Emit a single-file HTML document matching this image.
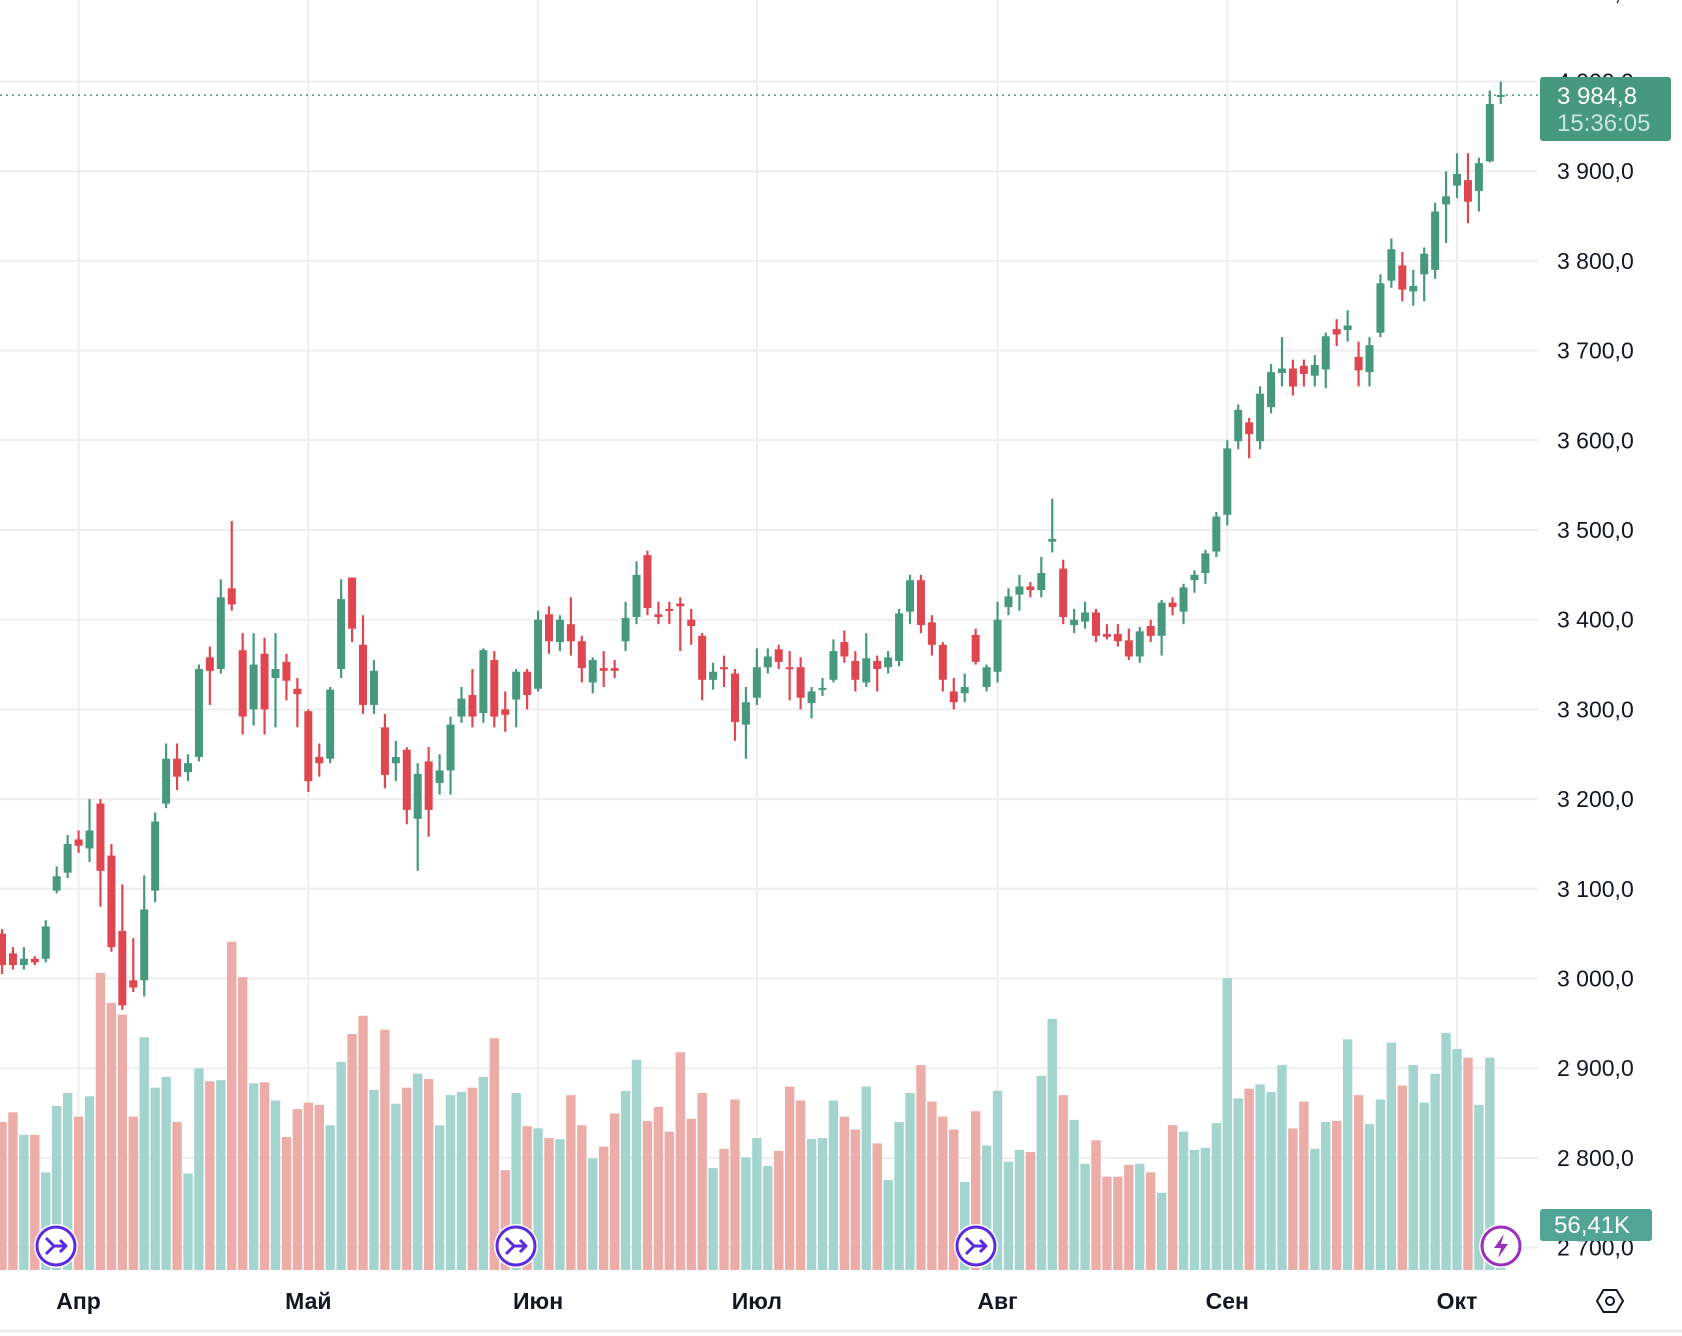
<!DOCTYPE html>
<html><head><meta charset="utf-8">
<style>
html,body{margin:0;padding:0;background:#fff;}
svg{display:block;font-family:"Liberation Sans",sans-serif;}
</style></head>
<body>
<svg id="chart" width="1682" height="1336" viewBox="0 0 1682 1336" xmlns="http://www.w3.org/2000/svg">
<g id="grid"></g>
<g id="vol"></g>
<g id="candles"></g>
<g id="yaxis"></g>
<g id="xaxis"></g>
</svg>
<script>
const opens=[3050,3028,3015,3022,3022,3098,3118,3155,3145,3195,3137,3053,2998,2998,3098,3195,3245,3230,3247,3358,3345,3435,3366,3300,3362,3335,3353,3323,3298,3247,3245,3345,3447,3372,3305,3280,3240,3255,3178,3242,3218,3232,3292,3316,3296,3355,3300,3311,3342,3323,3406,3375,3395,3376,3330,3346,3346,3376,3403,3472,3406,3412,3418,3400,3382,3333,3347,3340,3283,3313,3347,3367,3347,3347,3307,3322,3333,3375,3354,3330,3354,3347,3354,3409,3444,3397,3372,3320,3318,3383,3325,3342,3414,3428,3437,3433,3487,3457,3394,3398,3408,3384,3384,3377,3359,3393,3382,3419,3409,3444,3452,3476,3517,3599,3620,3599,3637,3675,3680,3683,3672,3679,3724,3723,3693,3676,3720,3778,3795,3766,3785,3790,3863,3884,3890,3878,3911,3984];
const closes=[3015,3015,3022,3018,3058,3114,3150,3148,3165,3120,3035,2970,2990,3077,3175,3245,3225,3240,3345,3343,3425,3417,3292,3350,3300,3345,3332,3317,3220,3240,3322,3423,3390,3305,3343,3227,3247,3188,3228,3188,3232,3283,3312,3292,3366,3292,3294,3342,3316,3400,3376,3400,3376,3346,3355,3343,3343,3402,3450,3413,3403,3410,3415,3393,3333,3342,3345,3286,3308,3347,3359,3353,3345,3313,3320,3324,3365,3359,3333,3357,3345,3358,3407,3444,3394,3372,3333,3308,3325,3353,3347,3400,3426,3437,3433,3452,3490,3403,3400,3408,3382,3381,3376,3359,3387,3382,3419,3414,3436,3450,3474,3515,3591,3634,3607,3652,3676,3680,3660,3674,3684,3716,3718,3728,3678,3706,3775,3813,3768,3772,3808,3855,3872,3897,3866,3909,3975,3985];
const highs=[3055,3035,3035,3025,3065,3125,3160,3165,3200,3200,3150,3105,3045,3115,3185,3262,3262,3250,3350,3370,3445,3510,3385,3385,3380,3385,3362,3335,3300,3262,3325,3445,3447,3405,3355,3295,3265,3258,3240,3258,3250,3292,3325,3345,3368,3365,3320,3345,3345,3410,3415,3405,3425,3382,3358,3365,3355,3420,3465,3477,3420,3420,3425,3412,3385,3352,3360,3345,3325,3368,3368,3372,3365,3358,3325,3335,3378,3388,3365,3385,3360,3365,3412,3450,3450,3405,3375,3335,3340,3390,3350,3420,3435,3450,3442,3470,3535,3467,3412,3420,3412,3395,3395,3390,3392,3400,3422,3425,3440,3455,3478,3520,3600,3640,3625,3660,3685,3715,3690,3690,3695,3720,3735,3745,3710,3715,3785,3825,3810,3790,3815,3865,3900,3920,3920,3915,3990,4000];
const lows=[3005,3010,3010,3015,3018,3095,3112,3140,3130,3080,3030,2965,2985,2980,3085,3190,3210,3220,3242,3305,3340,3410,3272,3282,3272,3280,3310,3280,3208,3225,3240,3335,3375,3295,3295,3212,3220,3172,3120,3158,3205,3205,3285,3280,3285,3280,3275,3280,3300,3320,3362,3365,3360,3330,3318,3325,3335,3365,3395,3405,3395,3395,3365,3372,3310,3322,3325,3265,3245,3305,3340,3345,3310,3300,3290,3315,3330,3352,3320,3325,3320,3340,3348,3395,3385,3360,3320,3300,3308,3350,3320,3330,3405,3410,3425,3425,3475,3395,3385,3390,3375,3378,3370,3355,3352,3375,3360,3405,3395,3430,3440,3470,3505,3590,3580,3590,3630,3660,3650,3660,3660,3658,3705,3710,3660,3660,3715,3770,3755,3750,3755,3780,3820,3870,3842,3855,3910,3975];
const volumes=[138,147,126,126,91,153,165,143,162,277,249,238,143,217,170,180,138,90,188,176,177,306,273,174,175,158,124,150,156,154,135,194,220,237,168,224,155,170,183,178,135,163,166,170,180,216,93,165,134,132,123,122,163,135,104,115,146,167,196,139,152,129,203,141,165,95,113,159,105,123,97,111,171,158,122,123,158,143,131,171,118,84,138,165,191,157,143,131,82,148,116,167,101,112,110,181,234,163,140,99,121,87,87,98,99,91,72,135,129,112,114,137,272,160,169,173,166,191,132,157,113,138,139,215,163,136,159,212,172,191,156,183,221,206,198,154,198,4];
const priceTicks=[4100,4000,3900,3800,3700,3600,3500,3400,3300,3200,3100,3000,2900,2800,2700];
const priceTickLabels=["4 100,0","4 000,0","3 900,0","3 800,0","3 700,0","3 600,0","3 500,0","3 400,0","3 300,0","3 200,0","3 100,0","3 000,0","2 900,0","2 800,0","2 700,0"];
const monthIdx=[7,28,49,69,91,112,133];
const monthLabels=["Апр","Май","Июн","Июл","Авг","Сен","Окт"];
const lastPrice=3984.8;

const NS="http://www.w3.org/2000/svg";
const PR=1538, VB=1270;
function X(i){return 2+i*10.94;}
function Y(p){return 81.5+(4000-p)*0.897;}
function VY(v){return VB-v*1.0727;}
function mk(tag,attrs,parent){const e=document.createElementNS(NS,tag);for(const k in attrs)e.setAttribute(k,attrs[k]);parent.appendChild(e);return e;}
const G=document.getElementById('grid'),V=document.getElementById('vol'),C=document.getElementById('candles'),YA=document.getElementById('yaxis'),XA=document.getElementById('xaxis');

priceTicks.forEach((p,k)=>{
  const l=mk('line',{x1:0,x2:PR,y1:Y(p),y2:Y(p),stroke:'#eeeeee','stroke-width':2},G);
  
  
  const t=mk('text',{x:1557,y:Y(p)+8,'font-size':23,fill:'#131722'},YA);
  t.textContent=priceTickLabels[k];
  
  
});
monthIdx.forEach((i,k)=>{
  const l=mk('line',{x1:X(i),x2:X(i),y1:0,y2:VB,stroke:'#eeeeee','stroke-width':2},G);
  
  
  const t=mk('text',{x:X(i),y:1309,'font-size':23,'font-weight':'bold','text-anchor':'middle',fill:'#131722'},XA);
  t.textContent=monthLabels[k];
  
  
});

volumes.forEach((v,i)=>{
  const up=closes[i]>=opens[i];
  const r=mk('rect',{x:X(i)-4.7,y:VY(v),width:9.4,height:VB-VY(v),fill:up?'#a3d4ce':'#ecaca8'},V);
  
  
});
opens.forEach((o,i)=>{
  const c=closes[i],up=c>=o,col=up?'#46997f':'#e0464f';
  const g=mk('g',{},C);
  
  
  mk('line',{x1:X(i),x2:X(i),y1:Y(highs[i]),y2:Y(lows[i]),stroke:col,'stroke-width':2.2},g);
  const top=Y(Math.max(o,c)),h=Math.max(2,Math.abs(Y(o)-Y(c)));
  mk('rect',{x:X(i)-4,y:top,width:8,height:h,fill:col},g);
});

const ly=Y(lastPrice);
const dl=mk('line',{x1:0,x2:PR,y1:ly,y2:ly,stroke:'#46997f','stroke-width':1.6,'stroke-dasharray':'2 4'},G);


const tag=mk('g',{},YA);


mk('rect',{x:1540,y:77,width:131,height:64,rx:3,fill:'#46997f'},tag);
let t1=mk('text',{x:1557,y:104,'font-size':24,fill:'#ffffff'},tag);t1.textContent='3 984,8';
let t2=mk('text',{x:1557,y:131,'font-size':24,fill:'#c8e6dd'},tag);t2.textContent='15:36:05';
const vt=mk('g',{},YA);


mk('rect',{x:1540,y:1209,width:112,height:32,rx:3,fill:'#52a596'},vt);
let t3=mk('text',{x:1554,y:1233,'font-size':24,fill:'#ffffff'},vt);t3.textContent='56,41K';

[[56,'#5b2be0','s'],[516,'#5b2be0','s'],[976,'#5b2be0','s'],[1501,'#9b2fb8','b']].forEach(e=>{
  const g=mk('g',{transform:`translate(${e[0]},1246)`},C);
  
  
  mk('circle',{r:22,fill:'#fff'},g);
  mk('circle',{r:19,fill:'#fff',stroke:e[1],'stroke-width':3},g);
  if(e[2]==='s'){
    mk('path',{d:'M-10,-8 L-2,0 L-10,8 M-2,0 L10,0 M4,-6 L10,0 L4,6',fill:'none',stroke:e[1],'stroke-width':3,'stroke-linejoin':'round'},g);
  } else {
    mk('path',{d:'M3,-12 L-7,2 L0,2 L-3,12 L7,-2 L0,-2 Z',fill:e[1]},g);
  }
});

const gear=mk('g',{transform:'translate(1610,1301)'},XA);


mk('path',{d:'M-13,0 L-6.5,-11 L6.5,-11 L13,0 L6.5,11 L-6.5,11 Z',fill:'none',stroke:'#131722','stroke-width':2},gear);
mk('circle',{r:4,fill:'none',stroke:'#131722','stroke-width':2},gear);
const bl=mk('line',{x1:0,x2:1682,y1:1331,y2:1331,stroke:'#ececec','stroke-width':3},XA);


</script>
</body></html>
